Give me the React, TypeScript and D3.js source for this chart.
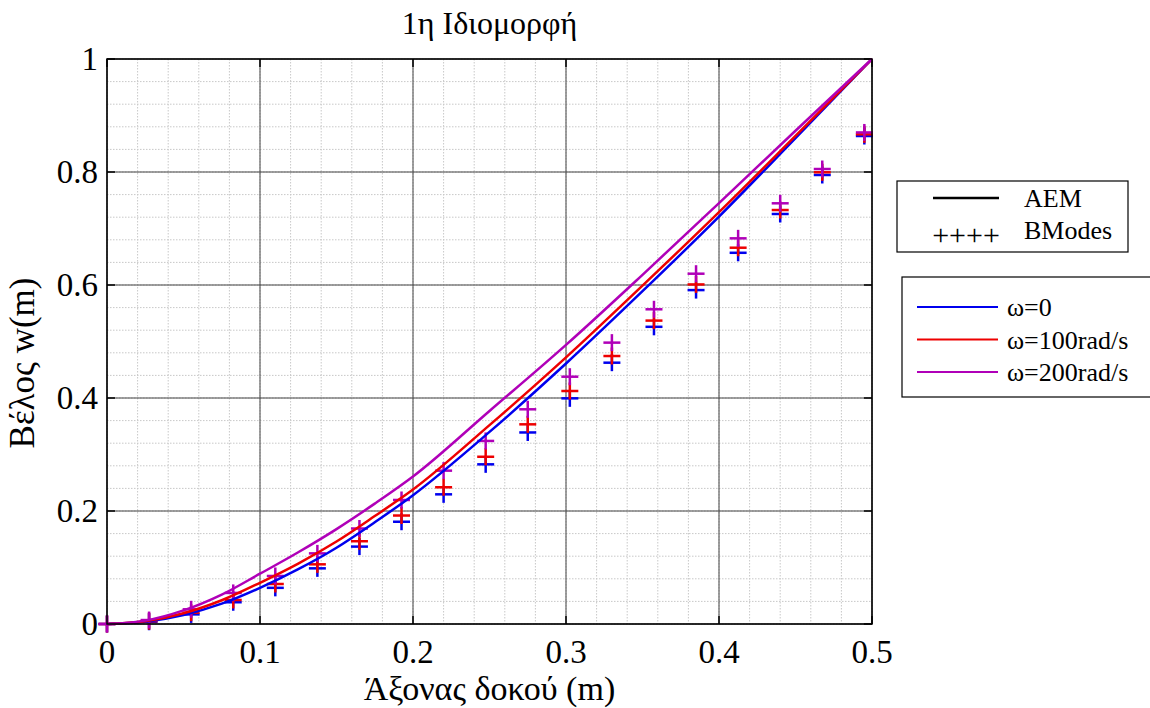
import React from "react";
import * as d3 from "d3";

// AEM curves (solid lines)
const lineX = [0, 0.025, 0.05, 0.075, 0.1, 0.125, 0.15, 0.175, 0.2, 0.25, 0.3, 0.35, 0.4, 0.45, 0.5];
const aemW0 = [0, 0.004, 0.016, 0.036, 0.064, 0.097, 0.135, 0.18, 0.228, 0.34, 0.461, 0.589, 0.721, 0.86, 1.0];
const aemW100 = [0, 0.005, 0.019, 0.042, 0.073, 0.107, 0.146, 0.191, 0.238, 0.352, 0.472, 0.599, 0.729, 0.864, 1.0];
const aemW200 = [0, 0.006, 0.024, 0.052, 0.089, 0.127, 0.168, 0.213, 0.261, 0.377, 0.494, 0.618, 0.745, 0.873, 1.0];

// BModes points (+ markers)
const markX = [0, 0.0275, 0.055, 0.0825, 0.11, 0.1375, 0.165, 0.1925, 0.22, 0.2475, 0.275, 0.3025, 0.33, 0.3575, 0.385, 0.4125, 0.44, 0.4675, 0.495];
const bmW0 = [0, 0.004, 0.017, 0.0385, 0.064, 0.0985, 0.137, 0.181, 0.2295, 0.2826, 0.339, 0.3994, 0.4625, 0.526, 0.591, 0.657, 0.7257, 0.7947, 0.8637];
const bmW100 = [0, 0.005, 0.02, 0.0425, 0.0708, 0.1056, 0.1465, 0.192, 0.242, 0.296, 0.3534, 0.4124, 0.4743, 0.537, 0.601, 0.666, 0.7327, 0.7995, 0.8667];
const bmW200 = [0, 0.007, 0.026, 0.055, 0.085, 0.125, 0.169, 0.2195, 0.2714, 0.324, 0.38, 0.4377, 0.498, 0.557, 0.62, 0.6826, 0.7446, 0.8053, 0.87];

const xTicks = [0, 0.1, 0.2, 0.3, 0.4, 0.5];
const yTicks = [0, 0.2, 0.4, 0.6, 0.8, 1];
const seriesNames = ["ω=0", "ω=100rad/s", "ω=200rad/s"];
const seriesColors = ["#0000ee", "#ee0000", "#b000b8"];

const title = "1η Ιδιομορφή";
const xLabel = "Άξονας δοκού (m)";
const yLabel = "Βέλος w(m)";

const font = "'Liberation Serif', 'Times New Roman', serif";

export default function App() {
  const left = 107, right = 872, top = 59, bottom = 624;
  const x = d3.scaleLinear().domain([0, 0.5]).range([left, right]);
  const y = d3.scaleLinear().domain([0, 1]).range([bottom, top]);

  const line = d3
    .line<number>()
    .x((_, i) => x(lineX[i]))
    .y((d) => y(d))
    .curve(d3.curveMonotoneX);

  const aem = [aemW0, aemW100, aemW200];
  const bm = [bmW0, bmW100, bmW200];

  const minorX = d3.range(0, 0.5001, 0.02);
  const minorY = d3.range(0, 1.0001, 0.04);
  const half = 8.5;

  return (
    <svg width={1150} height={708} style={{ position: "absolute", left: 0, top: 0, background: "#fff" }} fontFamily={font}>
      <rect width={1150} height={708} fill="#fff" />
      {/* minor grid */}
      {minorX.map((v, i) => (
        <line key={"mx" + i} x1={x(v)} x2={x(v)} y1={top} y2={bottom} stroke="#c8c8c8" strokeDasharray="1.5,1.5" />
      ))}
      {minorY.map((v, i) => (
        <line key={"my" + i} x1={left} x2={right} y1={y(v)} y2={y(v)} stroke="#c8c8c8" strokeDasharray="1.5,1.5" />
      ))}
      {/* major grid */}
      {xTicks.map((v) => (
        <line key={"gx" + v} x1={x(v)} x2={x(v)} y1={top} y2={bottom} stroke="#444" strokeWidth={1} />
      ))}
      {yTicks.map((v) => (
        <line key={"gy" + v} x1={left} x2={right} y1={y(v)} y2={y(v)} stroke="#444" strokeWidth={1} />
      ))}
      {/* ticks */}
      {xTicks.map((v) => (
        <g key={"tx" + v}>
          <line x1={x(v)} x2={x(v)} y1={bottom} y2={bottom - 8} stroke="#000" strokeWidth={1.5} />
          <line x1={x(v)} x2={x(v)} y1={top} y2={top + 8} stroke="#000" strokeWidth={1.5} />
        </g>
      ))}
      {yTicks.map((v) => (
        <g key={"ty" + v}>
          <line x1={left} x2={left + 8} y1={y(v)} y2={y(v)} stroke="#000" strokeWidth={1.5} />
          <line x1={right} x2={right - 8} y1={y(v)} y2={y(v)} stroke="#000" strokeWidth={1.5} />
        </g>
      ))}

      {/* BModes markers */}
      {bm.map((vals, s) => (
        <g key={"bm" + s} stroke={seriesColors[s]} strokeWidth={2.5}>
          {vals.map((v, i) => (
            <g key={i}>
              <line x1={x(markX[i]) - half} x2={x(markX[i]) + half} y1={y(v)} y2={y(v)} />
              <line x1={x(markX[i])} x2={x(markX[i])} y1={y(v) - half} y2={y(v) + half} />
            </g>
          ))}
        </g>
      ))}

      {/* AEM lines */}
      {aem.map((vals, s) => (
        <path key={"aem" + s} d={line(vals) || ""} fill="none" stroke={seriesColors[s]} strokeWidth={2.5} />
      ))}

      {/* frame */}
      <rect x={left} y={top} width={right - left} height={bottom - top} fill="none" stroke="#000" strokeWidth={1.5} />

      {/* tick labels */}
      {xTicks.map((v) => (
        <text key={"lx" + v} x={x(v)} y={663} textAnchor="middle" fontSize={33} fill="#000">
          {d3.format("~g")(v)}
        </text>
      ))}
      {yTicks.map((v) => (
        <text key={"ly" + v} x={98} y={y(v) + 11} textAnchor="end" fontSize={33} fill="#000">
          {d3.format("~g")(v)}
        </text>
      ))}

      {/* titles */}
      <text x={(left + right) / 2} y={34} textAnchor="middle" fontSize={32} fill="#000">{title}</text>
      <text x={(left + right) / 2} y={700} textAnchor="middle" fontSize={34} fill="#000">{xLabel}</text>
      <text transform={`translate(34,363) rotate(-90)`} textAnchor="middle" fontSize={35} fill="#000">{yLabel}</text>

      {/* legend: method */}
      <rect x={897} y={181} width={231} height={71} fill="#fff" stroke="#000" strokeWidth={1.2} />
      <line x1={933} x2={999} y1={198} y2={198} stroke="#000" strokeWidth={2.5} />
      <text x={1024} y={207} fontSize={26} fill="#000">AEM</text>
      <text x={966} y={245} textAnchor="middle" fontSize={30} fill="#000">++++</text>
      <text x={1024} y={239} fontSize={26} fill="#000">BModes</text>

      {/* legend: series */}
      <rect x={902} y={277} width={260} height={120} fill="#fff" stroke="#000" strokeWidth={1.2} />
      {seriesNames.map((n, i) => (
        <g key={"lg" + i}>
          <line x1={917} x2={998} y1={307 + i * 32.5} y2={307 + i * 32.5} stroke={seriesColors[i]} strokeWidth={2} />
          <text x={1007} y={316 + i * 32.5} fontSize={26} fill="#000">{n}</text>
        </g>
      ))}
    </svg>
  );
}
